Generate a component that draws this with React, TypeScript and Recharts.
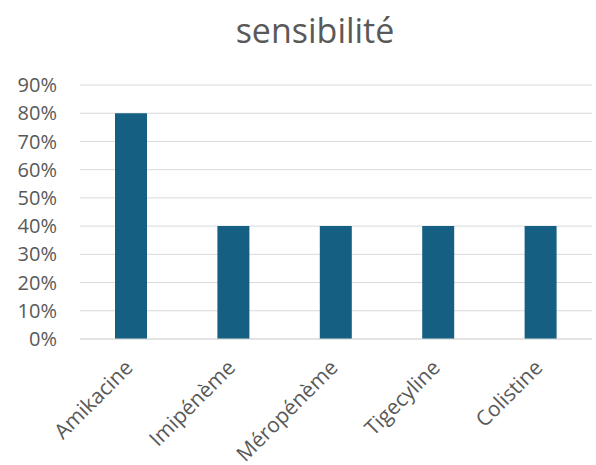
import { BarChart, Bar, XAxis, YAxis, CartesianGrid } from 'recharts'

const antibiotics = ['Amikacine', 'Imipénème', 'Méropénème', 'Tigecyline', 'Colistine']
const sensitivity = [0.8, 0.4, 0.4, 0.4, 0.4]
const yTicks = [0, 0.1, 0.2, 0.3, 0.4, 0.5, 0.6, 0.7, 0.8, 0.9]

const data = antibiotics.map((name, i) => ({ name, value: sensitivity[i] }))

const FONT = '"Open Sans", sans-serif'
const TEXT = '#595959'

function AngledTick(props: any) {
  const { x, y, payload } = props
  const ax = x + 3
  const ay = y + 22
  return (
    <text
      x={ax}
      y={ay}
      transform={`rotate(-45, ${ax}, ${ay})`}
      textAnchor="end"
      fontSize={21}
      fontFamily={FONT}
      fill={TEXT}
    >
      {payload.value}
    </text>
  )
}

export default function App() {
  return (
    <div style={{ position: 'absolute', left: 0, top: 0, width: 596, height: 465, background: '#fff' }}>
      <div
        style={{
          position: 'absolute',
          left: 0,
          top: 7,
          width: 630,
          textAlign: 'center',
          fontFamily: FONT,
          fontSize: 34,
          color: TEXT,
        }}
      >
        sensibilité
      </div>
      <BarChart
        width={596}
        height={465}
        data={data}
        margin={{ top: 85, right: 4, left: 8, bottom: 0 }}
        barCategoryGap="34%"
      >
        <CartesianGrid vertical={false} stroke="#d9d9d9" strokeWidth={1} />
        <XAxis
          dataKey="name"
          interval={0}
          tickLine={false}
          axisLine={{ stroke: '#d9d9d9' }}
          tick={<AngledTick />}
          height={126}
        />
        <YAxis
          domain={[0, 0.9]}
          ticks={yTicks}
          tickFormatter={(v: number) => `${Math.round(v * 100)}%`}
          axisLine={false}
          tickLine={false}
          tickSize={0}
          tickMargin={23}
          width={72}
          tick={{ fontSize: 20, fontFamily: FONT, fill: TEXT }}
        />
        <Bar dataKey="value" fill="#156082" barSize={32} isAnimationActive={false} />
      </BarChart>
    </div>
  )
}
